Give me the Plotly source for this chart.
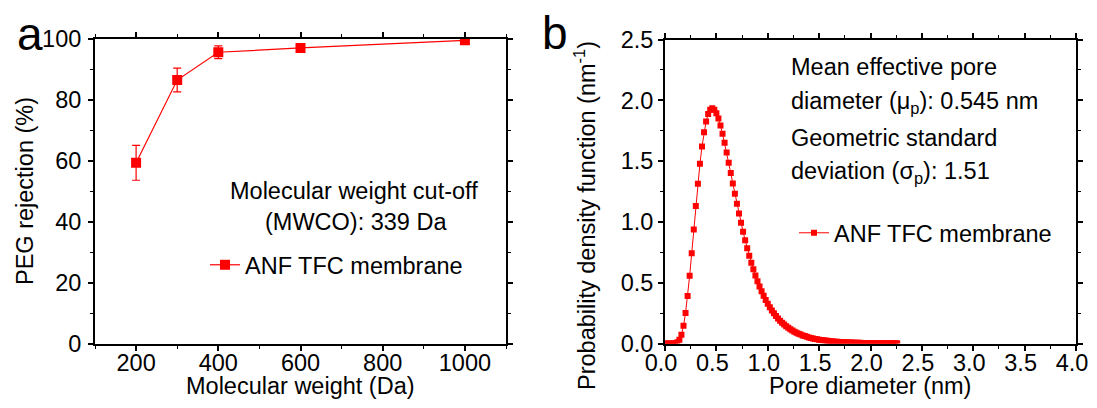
import plotly.graph_objects as go

# ---------------- data ----------------
mw = [200, 300, 400, 600, 1000]
rejection = [59.3, 86.4, 95.5, 96.9, 99.4]
rejection_err = [5.7, 3.9, 2.1, 0.6, 0.4]

pore_d = [round(0.02 * i, 2) for i in range(0, 114)]
pdf_vals = [
    0.0, 0.0, 0.0, 0.0, 0.0002, 0.0020, 0.0095, 0.0301, 0.0726, 0.1450,
    0.2512, 0.3902, 0.5569, 0.7422, 0.9367, 1.1301, 1.3132, 1.4784, 1.6208, 1.7372,
    1.8261, 1.8875, 1.9227, 1.9338, 1.9232, 1.8943, 1.8496, 1.7923, 1.7249, 1.6501,
    1.5701, 1.4867, 1.4019, 1.3166, 1.2324, 1.1499, 1.0700, 0.9931, 0.9197, 0.8501,
    0.7841, 0.7224, 0.6643, 0.6100, 0.5595, 0.5128, 0.4694, 0.4294, 0.3924, 0.3584,
    0.3272, 0.2985, 0.2723, 0.2481, 0.2261, 0.2060, 0.1877, 0.1708, 0.1555, 0.1416,
    0.1289, 0.1173, 0.1067, 0.0971, 0.0884, 0.0804, 0.0732, 0.0667, 0.0607, 0.0552,
    0.0503, 0.0458, 0.0417, 0.0380, 0.0346, 0.0316, 0.0288, 0.0263, 0.0239, 0.0218,
    0.0199, 0.0181, 0.0166, 0.0151, 0.0138, 0.0126, 0.0115, 0.0105, 0.0096, 0.0088,
    0.0080, 0.0073, 0.0067, 0.0061, 0.0056, 0.0052, 0.0047, 0.0043, 0.0039, 0.0036,
    0.0033, 0.0031, 0.0028, 0.0026, 0.0024, 0.0022, 0.0020, 0.0019, 0.0017, 0.0016,
    0.0015, 0.0014, 0.0013, 0.0012,
]

left_xticks = [200, 400, 600, 800, 1000]
left_yticks = [0, 20, 40, 60, 80, 100]
right_xticks = [0.0, 0.5, 1.0, 1.5, 2.0, 2.5, 3.0, 3.5, 4.0]
right_yticks = [0.0, 0.5, 1.0, 1.5, 2.0, 2.5]

# ---------------- figure ----------------
# page body has an 8px default margin; figure fills the rest of the window
OFF = 8
W, H = 1097 - 2 * OFF, 408 - 2 * OFF
FONT = "Liberation Sans, Arial, sans-serif"
FS = 23.5
RED = "#FF0000"


def px(x):
    return (x - OFF) / W


def py(y):
    return 1 - (y - OFF) / H


fig = go.Figure()

fig.add_trace(go.Scatter(
    x=mw, y=rejection, mode="lines+markers", name="ANF TFC membrane",
    line=dict(color=RED, width=1.2),
    marker=dict(symbol="square", size=10, color=RED),
    error_y=dict(type="data", array=rejection_err, visible=True,
                 color=RED, thickness=1.2, width=4),
    xaxis="x", yaxis="y", legend="legend",
))

fig.add_trace(go.Scatter(
    x=pore_d, y=pdf_vals, mode="lines+markers", name="ANF TFC membrane",
    line=dict(color=RED, width=1),
    marker=dict(symbol="square", size=6, color=RED),
    xaxis="x2", yaxis="y2", legend="legend2",
))

axis_common = dict(
    showline=True, linecolor="black", linewidth=2, mirror="ticks",
    ticks="outside", ticklen=5, tickwidth=1.5, tickcolor="black",
    showgrid=False, zeroline=False, automargin=False,
    ticklabeloverflow="allow",
    tickfont=dict(family=FONT, size=FS, color="black"),
)

fig.update_layout(
    template="none",
    width=W, height=H,
    margin=dict(l=0, r=0, t=0, b=0, autoexpand=False),
    paper_bgcolor="white", plot_bgcolor="white",
    font=dict(family=FONT, size=FS, color="black"),
    xaxis=dict(domain=[px(95), px(506)], range=[100, 1100], anchor="y",
               tickvals=left_xticks, ticklabelstandoff=-8,
               minor=dict(dtick=100, tick0=0, ticks="outside", ticklen=3,
                          tickwidth=1.2, tickcolor="black"),
               **axis_common),
    yaxis=dict(domain=[py(344), py(38.5)], range=[0, 100], anchor="x",
               tickvals=left_yticks, ticklabelstandoff=2,
               minor=dict(dtick=10, tick0=0, ticks="outside", ticklen=3,
                          tickwidth=1.2, tickcolor="black"),
               **axis_common),
    xaxis2=dict(domain=[px(665), px(1076)], range=[0, 4], anchor="y2",
                tickvals=right_xticks, tickformat=".1f", ticklabelstandoff=-8,
                ticklabelshift=-4,
                minor=dict(dtick=0.25, tick0=0, ticks="outside", ticklen=3,
                           tickwidth=1.2, tickcolor="black"),
                **axis_common),
    yaxis2=dict(domain=[py(343.5), py(39.5)], range=[0, 2.5], anchor="x2",
                tickvals=right_yticks, tickformat=".1f",
                minor=dict(dtick=0.25, tick0=0, ticks="outside", ticklen=3,
                           tickwidth=1.2, tickcolor="black"),
                **axis_common),
    legend=dict(x=px(205), y=py(265), xanchor="left", yanchor="middle",
                bgcolor="rgba(0,0,0,0)", borderwidth=0,
                font=dict(family=FONT, size=FS, color="black")),
    legend2=dict(x=px(794), y=py(233), xanchor="left", yanchor="middle",
                 bgcolor="rgba(0,0,0,0)", borderwidth=0,
                 font=dict(family=FONT, size=FS, color="black")),
    showlegend=True,
)


def ann(text, x, y, size=FS, xanchor="center", angle=0):
    fig.add_annotation(text=text, x=px(x), y=py(y), xref="paper", yref="paper",
                       xanchor=xanchor, yanchor="middle", showarrow=False,
                       textangle=angle, font=dict(family=FONT, size=size, color="black"))


# panel letters
ann("a", 30, 34, size=46)
ann("b", 555, 33, size=46)

# axis titles
ann("Molecular weight (Da)", 300, 386)
ann("PEG rejection (%)", 25, 191, angle=-90)
ann("Pore diameter (nm)", 870, 386)
ann("Probability density function (nm<sup>-1</sup>)", 585, 216, angle=-90)

# left panel text
ann("Molecular weight cut-off", 354, 191)
ann("(MWCO): 339 Da", 356, 222)

# right panel text
ann("Mean effective pore", 789, 67, xanchor="left")
ann("diameter (μ<sub>p</sub>): 0.545 nm", 789, 102, xanchor="left")
ann("Geometric standard", 789, 138, xanchor="left")
ann("deviation (σ<sub>p</sub>): 1.51", 789, 172, xanchor="left")

fig.write_html("out.html")
